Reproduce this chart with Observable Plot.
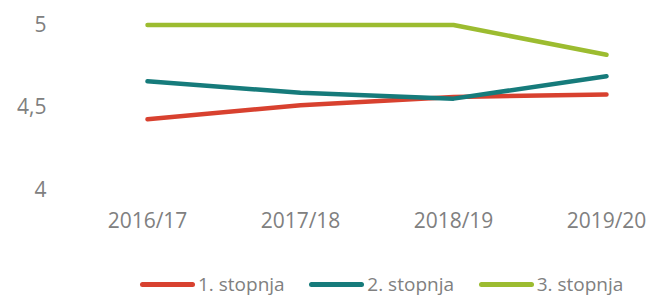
<!DOCTYPE html>
<html>
<head>
<meta charset="utf-8">
<script src="https://cdn.jsdelivr.net/npm/d3@7"></script>
<script src="https://cdn.jsdelivr.net/npm/@observablehq/plot@0.6"></script>
<style>
  body { margin: 0; background: #fff; font-family: "Open Sans", sans-serif; }
  #legend { height: 48px; box-sizing: border-box; padding-top: 20px; padding-left: 140px; display: flex; }
  .item { width: 171px; display: flex; align-items: center; line-height: 26px; font-size: 19px; color: #808080; }
  .sw { width: 55px; height: 5px; border-radius: 3px; margin-right: 3px; }
</style>
</head>
<body>
<div id="chart"></div>
<div id="legend"></div>
<script>
const years = ["2016/17", "2017/18", "2018/19", "2019/20"];
const seriesNames = ["1. stopnja", "2. stopnja", "3. stopnja"];
const stopnja1 = [4.43, 4.515, 4.565, 4.58];
const stopnja2 = [4.66, 4.59, 4.555, 4.69];
const stopnja3 = [5, 5, 5, 4.82];
const colors = ["#d8412f", "#167b7b", "#9cbc30"];
const yTicks = [4, 4.5, 5];

const allSeries = [stopnja1, stopnja2, stopnja3];
const data = allSeries.flatMap((vals, i) =>
  vals.map((v, j) => ({ year: years[j], value: v, series: seriesNames[i] }))
);

const chart = Plot.plot({
  width: 648,
  height: 250,
  marginTop: 24.5,
  marginBottom: 60,
  marginLeft: 56,
  marginRight: 0,
  style: { fontFamily: "Open Sans, sans-serif", fontSize: "21px", color: "#808080", background: "#fff" },
  x: { type: "point", domain: years, range: [146, 606], padding: 0, label: null },
  y: { domain: [4, 5], label: null },
  color: { domain: seriesNames, range: colors },
  marks: [
    Plot.axisY({ ticks: yTicks, tickSize: 0, tickPadding: 10, tickFormat: d => String(d).replace(".", ","), fill: "#808080" }),
    Plot.axisX({ tickSize: 0, tickPadding: 23, fill: "#808080" }),
    Plot.line(data, { x: "year", y: "value", z: "series", stroke: "series", strokeWidth: 4.5, strokeLinecap: "round", strokeLinejoin: "round" })
  ]
});
document.getElementById("chart").appendChild(chart);

const legend = document.getElementById("legend");
seriesNames.forEach((name, i) => {
  const item = document.createElement("div");
  item.className = "item";
  const sw = document.createElement("span");
  sw.className = "sw";
  sw.style.background = colors[i];
  const t = document.createElement("span");
  t.textContent = name;
  item.appendChild(sw);
  item.appendChild(t);
  legend.appendChild(item);
});
</script>
</body>
</html>
